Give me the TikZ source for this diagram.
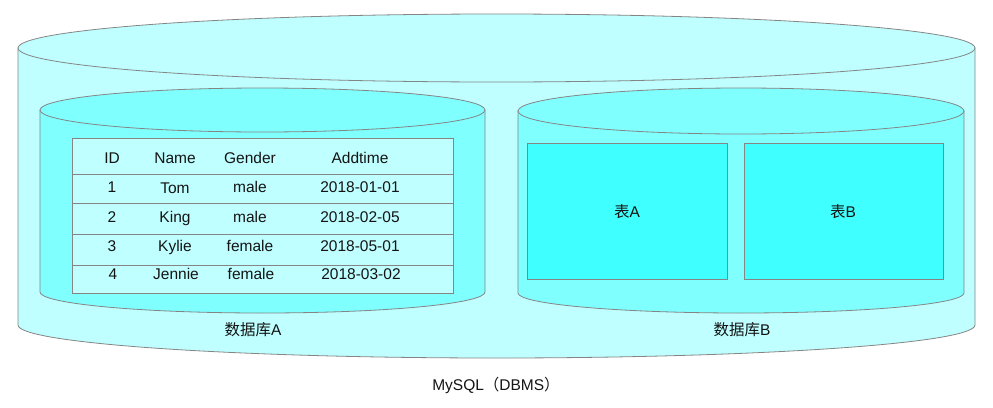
\documentclass[tikz,border=0pt]{standalone}
\usepackage{fontspec}
\setmainfont{Liberation Sans}
\newfontfamily\cjk{Noto Sans CJK SC}
\definecolor{outerfill}{HTML}{BFFFFF}
\definecolor{innerfill}{HTML}{80FFFF}
\definecolor{tablefill}{HTML}{BFFFFF}
\definecolor{boxfill}{HTML}{40FFFF}
\definecolor{edge}{HTML}{858585}
\definecolor{txt}{HTML}{141414}
\tikzset{
  shapeline/.style={draw=edge, line width=0.8pt},
  lbl/.style={font=\fontsize{15.5}{17}\selectfont, text=txt, inner sep=0pt, anchor=center, text height=11.1pt, text depth=0pt},
}
\begin{document}
\begin{tikzpicture}[x=1pt,y=-1pt]
\useasboundingbox (0,0) rectangle (993,407);
% outer cylinder
\path[shapeline, fill=outerfill] (18,48) -- (18,325) arc[start angle=180, end angle=0, x radius=478.5, y radius=33] -- (975,48) -- cycle;
\path[shapeline, fill=outerfill] (496.5,48) ellipse[x radius=478.5, y radius=34];
% inner cylinder A
\path[shapeline, fill=innerfill] (40,110) -- (40,292) arc[start angle=180, end angle=0, x radius=222.5, y radius=21] -- (485,110) -- cycle;
\path[shapeline, fill=innerfill] (262.5,110) ellipse[x radius=222.5, y radius=22];
% inner cylinder B
\path[shapeline, fill=innerfill] (518,111) -- (518,293) arc[start angle=180, end angle=0, x radius=223, y radius=20] -- (964,111) -- cycle;
\path[shapeline, fill=innerfill] (741,111) ellipse[x radius=223, y radius=23];
% table A
\path[shapeline, fill=tablefill] (72,138) rectangle (453,293);
\foreach \yy in {174,203,234,265} \draw[edge, line width=0.8pt] (72,\yy) -- (453,\yy);
% header
\node[lbl] (hid) at (112,158) {ID};
\node[lbl] (hname) at (175,158) {Name};
\node[lbl] (hgender) at (250,158) {Gender};
\node[lbl] (htime) at (360,158) {Addtime};
\node[lbl] (r1a) at (112,187) {1};
\node[lbl] (r1b) at (175,188) {Tom};
\node[lbl] (r1c) at (250,187) {male};
\node[lbl] (r1d) at (360,187) {2018-01-01};
\node[lbl] (r2a) at (112,217) {2};
\node[lbl] (r2b) at (175,217) {King};
\node[lbl] (r2c) at (250,217) {male};
\node[lbl] (r2d) at (360,217) {2018-02-05};
\node[lbl] (r3a) at (112,246) {3};
\node[lbl] (r3b) at (175,246) {Kylie};
\node[lbl] (r3c) at (250,246) {female};
\node[lbl] (r3d) at (360,246) {2018-05-01};
\node[lbl] (r4a) at (113,274) {4};
\node[lbl] (r4b) at (176,274) {Jennie};
\node[lbl] (r4c) at (251,274) {female};
\node[lbl] (r4d) at (361,274) {2018-03-02};
% tables in B
\path[shapeline, fill=boxfill] (527,143) rectangle (727,279);
\path[shapeline, fill=boxfill] (744,143) rectangle (943,279);
\node[lbl] (ta) at (627,212) {{\cjk 表}A};
\node[lbl] (tb) at (843,212) {{\cjk 表}B};
% labels
\node[lbl] (dba) at (253,330) {{\cjk 数据库}A};
\node[lbl] (dbb) at (742,330) {{\cjk 数据库}B};
\node[lbl] (dbms) at (496,385) {MySQL{\cjk （}DBMS{\cjk ）}};
\end{tikzpicture}
\end{document}
